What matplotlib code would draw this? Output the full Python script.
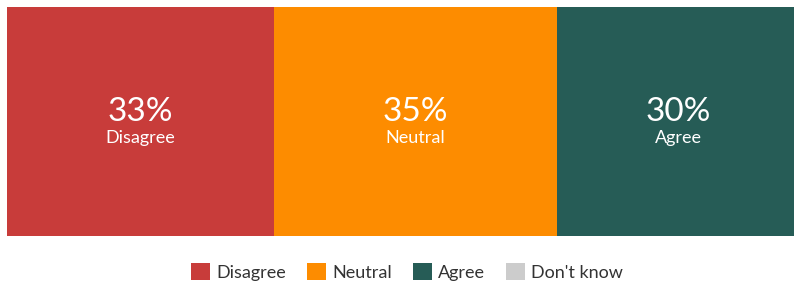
import matplotlib.pyplot as plt
from matplotlib.patches import Patch

# Survey response shares (percent)
categories = ['Disagree', 'Neutral', 'Agree', "Don't know"]
values = [33, 35, 30, 2]
colors = ['#C83C3A', '#FD8C00', '#265C56', '#CCCCCC']

plt.rcParams['font.family'] = ['Lato', 'DejaVu Sans']

fig = plt.figure(figsize=(7.94, 2.87), dpi=100)
ax = fig.add_axes([7 / 794, 51 / 287, 787 / 794, 229 / 287])

left = 0
for cat, val, col in zip(categories, values, colors):
    ax.barh(0, val, left=left, height=1, color=col, edgecolor='none')
    if cat != "Don't know":
        cx = left + val / 2
        ax.text(cx, 0.04, f'{val}%', ha='center', va='center', color='white', fontsize=24)
        ax.text(cx, -0.072, cat, ha='center', va='center', color='white', fontsize=13)
    left += val

ax.set_xlim(0, 97.3)
ax.set_ylim(-0.5, 0.5)
ax.axis('off')

handles = [Patch(facecolor=c, edgecolor='none', label=l) for l, c in zip(categories, colors)]
fig.legend(handles=handles, loc='center', bbox_to_anchor=(0.513, 15 / 287), ncol=4,
           frameon=False, fontsize=13, handlelength=1.05, handleheight=1.05,
           handletextpad=0.35, columnspacing=1.15, labelcolor='#333333')

fig.savefig('out.png', dpi=100)
